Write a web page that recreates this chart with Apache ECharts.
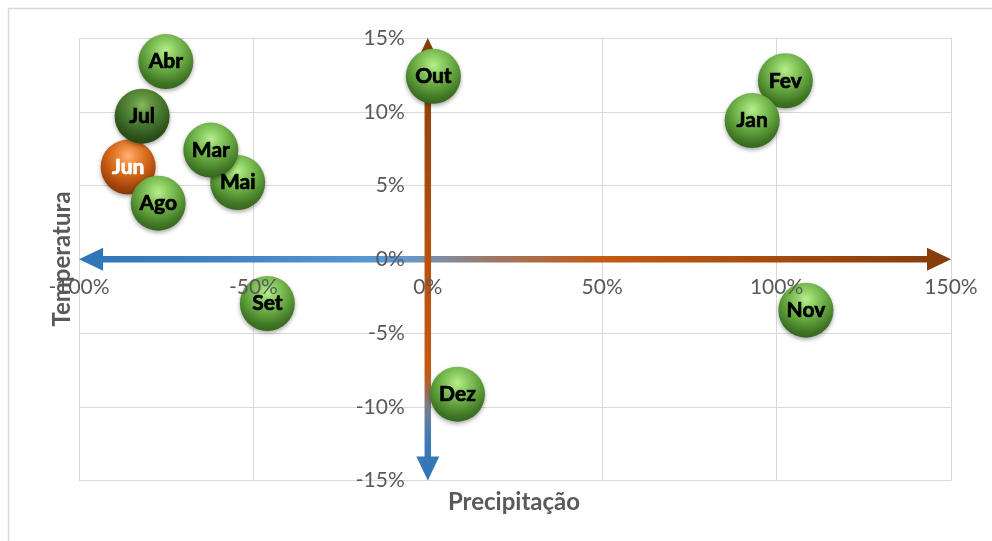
<!DOCTYPE html>
<html>
<head>
<meta charset="utf-8">
<title>Precipitação x Temperatura</title>
<script src="https://cdn.jsdelivr.net/npm/echarts@6/dist/echarts.min.js"></script>
<style>
  html, body { margin: 0; padding: 0; background: #fff; }
  #chart { width: 992px; height: 541px; }
</style>
</head>
<body>
<div id="chart"></div>
<script>
// Monthly deviations: precipitation (x, %) against temperature (y, %)
const months = ['Jan', 'Fev', 'Mar', 'Abr', 'Mai', 'Jun', 'Jul', 'Ago', 'Set', 'Out', 'Nov', 'Dez'];
const precipitation = [93.0, 102.5, -62.2, -75.1, -54.5, -85.9, -81.9, -77.3, -46.0, 1.6, 108.4, 8.5];
const temperature = [9.4, 12.1, 7.4, 13.4, 5.2, 6.25, 9.7, 3.8, -3.0, 12.4, -3.45, -9.15];

// Axis ticks (%)
const xTicks = [-100, -50, 0, 50, 100, 150];
const yTicks = [-15, -10, -5, 0, 5, 10, 15];

const xTitle = 'Precipitação';
const yTitle = 'Temperatura';

const FONT = 'Lato, "Open Sans", sans-serif';
const GREY = '#595959';

// Glossy sphere fill: bright spot near the top, darker body, slightly lit rim
function sphere(stops) {
  return {
    type: 'radial', x: 0.5, y: 0.3, r: 0.75,
    colorStops: stops.map(s => ({ offset: s[0], color: s[1] }))
  };
}
const greenBall = sphere([[0, '#b8ee8e'], [0.22, '#8fd065'], [0.55, '#5f9f3b'], [0.8, '#3f7524'], [0.93, '#35661d'], [1, '#4c8a30']]);
const darkGreenBall = sphere([[0, '#86b964'], [0.22, '#64943f'], [0.55, '#40702a'], [0.8, '#2c5019'], [0.93, '#264615'], [1, '#355f22']]);
const orangeBall = sphere([[0, '#ffb47a'], [0.22, '#ef8a3c'], [0.55, '#c85d13'], [0.8, '#9c420b'], [0.93, '#8a3908'], [1, '#a8501a']]);

const highlightMonth = 'Jun';

function point(i) {
  const name = months[i];
  const item = { name: name, value: [precipitation[i], temperature[i]] };
  if (name === 'Jul') item.itemStyle = { color: darkGreenBall };
  return item;
}

// Green months are laid down from December back to January
const greenData = [];
for (let i = months.length - 1; i >= 0; i--) {
  if (months[i] !== highlightMonth) greenData.push(point(i));
}
const hi = months.indexOf(highlightMonth);
const orangeData = [{ name: highlightMonth, value: [precipitation[hi], temperature[hi]] }];

// Axis arrows, from the blue end to the brown end
const xMin = xTicks[0], xMax = xTicks[xTicks.length - 1];
const yMin = yTicks[0], yMax = yTicks[yTicks.length - 1];
const arrowData = [
  [xMin, 0, xMax, 0, 0],
  [0, yMin, 0, yMax, 1]
];
const arrowStops = [
  [
    [0, '#2E75B6'], [0.2, '#4686C6'], [0.36, '#5B9BD5'], [0.41, '#7F8DA5'],
    [0.48, '#A07564'], [0.6, '#C55A11'], [1, '#843C0C']
  ],
  [
    [0, '#2E75B6'], [0.09, '#3E7AB6'], [0.17, '#7D7E8C'], [0.24, '#C55A11'],
    [0.55, '#B5500F'], [1, '#843C0C']
  ]
];

function renderArrow(params, api) {
  const p1 = api.coord([api.value(0), api.value(1)]);
  const p2 = api.coord([api.value(2), api.value(3)]);
  const stops = arrowStops[api.value(4)];
  const grad = new echarts.graphic.LinearGradient(
    p1[0], p1[1], p2[0], p2[1],
    stops.map(s => ({ offset: s[0], color: s[1] })),
    true
  );
  const dx = p2[0] - p1[0], dy = p2[1] - p1[1];
  const len = Math.sqrt(dx * dx + dy * dy);
  const ux = dx / len, uy = dy / len;
  const nx = -uy, ny = ux;
  const headLen = 24, headHalf = 11.5;
  function head(tip, dir) {
    const bx = tip[0] - dir * ux * headLen, by = tip[1] - dir * uy * headLen;
    return {
      type: 'polygon',
      shape: { points: [tip, [bx + nx * headHalf, by + ny * headHalf], [bx - nx * headHalf, by - ny * headHalf]] },
      style: { fill: grad }
    };
  }
  return {
    type: 'group',
    children: [
      {
        type: 'line',
        shape: {
          x1: p1[0] + ux * (headLen - 2), y1: p1[1] + uy * (headLen - 2),
          x2: p2[0] - ux * (headLen - 2), y2: p2[1] - uy * (headLen - 2)
        },
        style: { stroke: grad, lineWidth: 6.5 }
      },
      head(p1, -1),
      head(p2, 1)
    ]
  };
}

const labelBase = {
  show: true,
  position: 'inside',
  formatter: '{b}',
  fontFamily: FONT,
  fontWeight: 'bold',
  fontSize: 21,
  textBorderWidth: 0.7
};

const noLine = { show: false, onZero: false };
const gridLine = { show: true, lineStyle: { color: '#d9d9d9', width: 1 } };
const tickText = { formatter: '{value}%', color: GREY, fontSize: 21, fontFamily: FONT };

// Each direction has a gridline axis underneath the marks and a label axis above them
function xAxisPair() {
  const base = { type: 'value', position: 'bottom', min: xMin, max: xMax, interval: xTicks[1] - xTicks[0], axisLine: noLine, axisTick: { show: false } };
  return [
    Object.assign({}, base, { z: 0, axisLabel: { show: false }, splitLine: gridLine }),
    Object.assign({}, base, { z: 20, axisLabel: Object.assign({ margin: 17 }, tickText), splitLine: { show: false } })
  ];
}
function yAxisPair() {
  const base = { type: 'value', position: 'left', min: yMin, max: yMax, interval: yTicks[1] - yTicks[0], axisLine: noLine, axisTick: { show: false } };
  return [
    Object.assign({}, base, { z: 0, axisLabel: { show: false }, splitLine: gridLine }),
    Object.assign({}, base, { z: 20, axisLabel: Object.assign({ margin: 23 }, tickText), splitLine: { show: false } })
  ];
}

const chart = echarts.init(document.getElementById('chart'), null, { renderer: 'canvas' });
chart.setOption({
  backgroundColor: '#ffffff',
  animation: false,
  grid: { left: 79, right: 41, top: 38, bottom: 60.5, containLabel: false, outerBoundsMode: 'none' },
  xAxis: xAxisPair(),
  yAxis: yAxisPair(),
  graphic: [
    {
      type: 'rect', z: -1, silent: true,
      shape: { x: 8.5, y: 8.5, width: 1100, height: 700 },
      style: { fill: null, stroke: '#d9d9d9', lineWidth: 1.5 }
    },
    {
      type: 'text', x: 514, y: 502, z: 30, silent: true,
      style: {
        text: xTitle, fill: GREY, font: 'bold 24px ' + FONT,
        textAlign: 'center', textVerticalAlign: 'middle'
      }
    },
    {
      type: 'text', x: 62, y: 259, z: 30, rotation: Math.PI / 2, silent: true,
      style: {
        text: yTitle, fill: GREY, font: 'bold 24px ' + FONT,
        textAlign: 'center', textVerticalAlign: 'middle'
      }
    }
  ],
  series: [
    {
      type: 'custom',
      z: 1,
      silent: true,
      renderItem: renderArrow,
      data: arrowData
    },
    {
      type: 'scatter',
      z: 3,
      symbolSize: 55,
      data: orangeData,
      itemStyle: {
        color: orangeBall, opacity: 1,
        shadowBlur: 4, shadowColor: 'rgba(0,0,0,0.35)', shadowOffsetY: 2
      },
      label: Object.assign({}, labelBase, { color: '#ffffff', textBorderColor: '#ffffff' })
    },
    {
      type: 'scatter',
      z: 4,
      symbolSize: 55,
      data: greenData,
      itemStyle: {
        color: greenBall, opacity: 1,
        shadowBlur: 4, shadowColor: 'rgba(0,0,0,0.35)', shadowOffsetY: 2
      },
      label: Object.assign({}, labelBase, { color: '#000000', textBorderColor: '#000000' })
    }
  ]
});

// Move the tick labels onto the axes crossing at 0%/0%
const origin = chart.convertToPixel({ gridIndex: 0 }, [0, 0]);
const corner = chart.convertToPixel({ gridIndex: 0 }, [xMin, yMin]);
chart.setOption({
  xAxis: [{}, { offset: -(corner[1] - origin[1]) }],
  yAxis: [{}, { offset: -(origin[0] - corner[0]) }]
});
</script>
</body>
</html>
